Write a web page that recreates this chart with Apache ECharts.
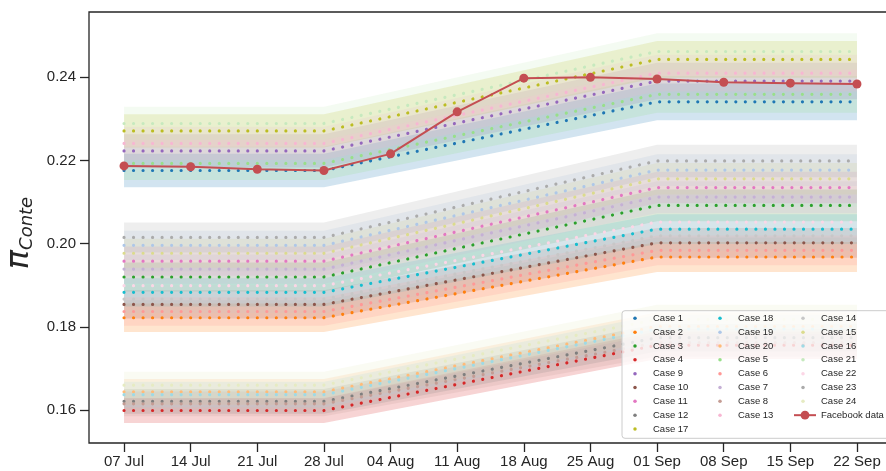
<!DOCTYPE html>
<html><head><meta charset="utf-8">
<script src="https://cdn.jsdelivr.net/npm/echarts@6/dist/echarts.min.js"></script>
<style>html,body{margin:0;padding:0;background:#fff}#c{width:886px;height:471px}</style>
</head><body><div id="c"></div>
<script>
// ---- data ----
const tickLabels = ['07 Jul','14 Jul','21 Jul','28 Jul','04 Aug','11 Aug','18 Aug','25 Aug','01 Sep','08 Sep','15 Sep','22 Sep'];
const tickDays = [0,7,14,21,28,35,42,49,56,63,70,77];
const yTicks = [0.16,0.18,0.20,0.22,0.24];
// scenario curves: flat until 28 Jul, rise, flat from 01 Sep
const caseKeyDays = [0,21,56,77];
const caseNames = ['Case 1','Case 2','Case 3','Case 4','Case 9','Case 10','Case 11','Case 12','Case 17','Case 18','Case 19','Case 20','Case 5','Case 6','Case 7','Case 8','Case 13','Case 14','Case 15','Case 16','Case 21','Case 22','Case 23','Case 24'];
const caseColors = ['#1f77b4','#ff7f0e','#2ca02c','#d62728','#9467bd','#8c564b','#e377c2','#7f7f7f','#bcbd22','#17becf','#aec7e8','#ffbb78','#98df8a','#ff9896','#c5b0d5','#c49c94','#f7b6d2','#c7c7c7','#dbdb8d','#9edae5','#c6e9be','#fcd6e6','#ababab','#e6ebc2'];
const caseStart = [0.2176,0.1822,0.1920,0.1599,0.2223,0.1854,0.1958,0.1621,0.2271,0.1883,0.1996,0.1644,0.2193,0.1837,0.1939,0.1615,0.2241,0.1867,0.1977,0.1637,0.2289,0.1899,0.2015,0.1660];
const caseEnd   = [0.2341,0.1968,0.2092,0.1756,0.2391,0.2002,0.2135,0.1774,0.2443,0.2035,0.2177,0.1801,0.2359,0.1984,0.2112,0.1762,0.2410,0.2019,0.2156,0.1795,0.2462,0.2052,0.2199,0.1818];
const caseBandStart = [0.0040,0.0034,0.0035,0.0030,0.0040,0.0034,0.0035,0.0030,0.0040,0.0034,0.0035,0.0031,0.0040,0.0034,0.0035,0.0030,0.0040,0.0034,0.0035,0.0031,0.0040,0.0035,0.0036,0.0032];
const caseBandEnd   = [0.0044,0.0036,0.0038,0.0033,0.0044,0.0036,0.0038,0.0033,0.0044,0.0036,0.0038,0.0034,0.0044,0.0036,0.0038,0.0033,0.0044,0.0036,0.0038,0.0034,0.0044,0.0037,0.0039,0.0035];
const facebookDays = [0,7,14,21,28,35,42,49,56,63,70,77];
const facebookValues = [0.2187,0.2185,0.2179,0.2176,0.2216,0.2317,0.2398,0.2400,0.2396,0.2388,0.2386,0.2384];

// ---- chart ----
const chart = echarts.init(document.getElementById('c'), null, {renderer:'canvas'});
const FONT = 'Liberation Sans, Arial, sans-serif';
const INK = '#262626';

function buildSeries(dayPx){
  const s = [];
  caseNames.forEach((name,i)=>{
    const vals = [caseStart[i],caseStart[i],caseEnd[i],caseEnd[i]];
    const half = [caseBandStart[i],caseBandStart[i],caseBandEnd[i],caseBandEnd[i]];
    s.push({type:'custom', name:'_band'+i, silent:true, z:2,
      data: caseKeyDays.map((d,k)=>[d, vals[k]-half[k], vals[k]+half[k]]),
      encode:{x:0, y:[1,2]},
      renderItem:(params, api)=>{
        if (params.dataIndexInside !== 0) return null;
        const n = params.dataInsideLength;
        const up = [], lo = [];
        for (let j=0;j<n;j++){
          up.push(api.coord([api.value(0,j), api.value(2,j)]));
          lo.push(api.coord([api.value(0,j), api.value(1,j)]));
        }
        return {type:'polygon', shape:{points: up.concat(lo.reverse())},
          style:{fill:caseColors[i], opacity:0.2}};
      }});
    s.push({type:'line', name:name, symbol:'none', color:caseColors[i], silent:true,
      data: caseKeyDays.map((d,k)=>[d, vals[k]]),
      lineStyle:{color:caseColors[i], width:3.2, type:[0.001, dayPx], cap:'round'}, z:2});
  });
  s.push({type:'line', name:'Facebook data', color:'#c44e52', symbol:'circle', symbolSize:9,
    showSymbol:true, data: facebookDays.map((d,k)=>[d, facebookValues[k]]),
    lineStyle:{color:'#c44e52', width:2}, itemStyle:{color:'#c44e52'}, z:3});
  return s;
}

const legendCommon = {orient:'vertical', padding:0, itemGap:0, itemWidth:26, itemHeight:3.5,
  icon:'circle', selectedMode:false,
  textStyle:{fontFamily:FONT, fontSize:9.5, color:INK, lineHeight:13.84}};
const rowH = 13.84, row1 = 318.3;

const option = {
  animation:false,
  backgroundColor:'#fff',
  grid:{left:89, right:-8, top:12, bottom:28, show:true, borderColor:INK, borderWidth:1.3,
    backgroundColor:'#fff', outerBoundsMode:'none', containLabel:false},
  xAxis:{type:'value', min:-3.68, max:80.89,
    axisLine:{show:false, onZero:false},
    splitLine:{show:false},
    axisTick:{show:true, length:9, lineStyle:{color:INK, width:1.3}, customValues:tickDays},
    axisLabel:{customValues:tickDays, margin:11, fontFamily:FONT, fontSize:15, color:INK,
      formatter:(v)=>tickLabels[tickDays.indexOf(Math.round(v))] || ''}},
  yAxis:{type:'value', min:0.15209, max:0.2557,
    axisLine:{show:false, onZero:false},
    splitLine:{show:false},
    axisTick:{show:true, length:9, lineStyle:{color:INK, width:1.3}, customValues:yTicks},
    axisLabel:{customValues:yTicks, margin:13, fontFamily:FONT, fontSize:15, color:INK,
      formatter:(v)=>v.toFixed(2)},
    name:'{pi|π}{sub|Conte}', nameLocation:'middle', nameGap:50, nameRotate:90,
    nameTextStyle:{rich:{
      pi:{fontFamily:'DejaVu Sans', fontStyle:'italic', fontSize:32, color:INK, lineHeight:32},
      sub:{fontFamily:'DejaVu Sans', fontStyle:'italic', fontSize:18, color:INK, lineHeight:18, padding:[11,11,0,0], verticalAlign:'bottom'}
    }}},
  legend:[
    Object.assign({}, legendCommon, {left:633.25, top:row1-rowH/2, data:['Case 1','Case 2','Case 3','Case 4','Case 9','Case 10','Case 11','Case 12','Case 17']}),
    Object.assign({}, legendCommon, {left:718.25, top:row1-rowH/2, data:['Case 18','Case 19','Case 20','Case 5','Case 6','Case 7','Case 8','Case 13']}),
    Object.assign({}, legendCommon, {left:801.25, top:row1-rowH/2, data:['Case 14','Case 15','Case 16','Case 21','Case 22','Case 23','Case 24']}),
    {orient:'vertical', padding:0, itemGap:0, itemWidth:22, itemHeight:11, selectedMode:false,
      left:793, top:row1+7*rowH-rowH/2,
      textStyle:{fontFamily:FONT, fontSize:9.5, color:INK, lineHeight:13.84}, data:['Facebook data']}
  ],
  graphic:[{type:'rect', z:3, shape:{x:622, y:310.7, width:275, height:127.6, r:3},
    style:{fill:'rgba(255,255,255,0.8)', stroke:'#cccccc', lineWidth:1}}],
  series: buildSeries(9.52)
};
chart.setOption(option);
const dayPx = chart.convertToPixel({xAxisIndex:0}, 1) - chart.convertToPixel({xAxisIndex:0}, 0);
chart.setOption({series: buildSeries(dayPx)});
</script>
</body></html>
